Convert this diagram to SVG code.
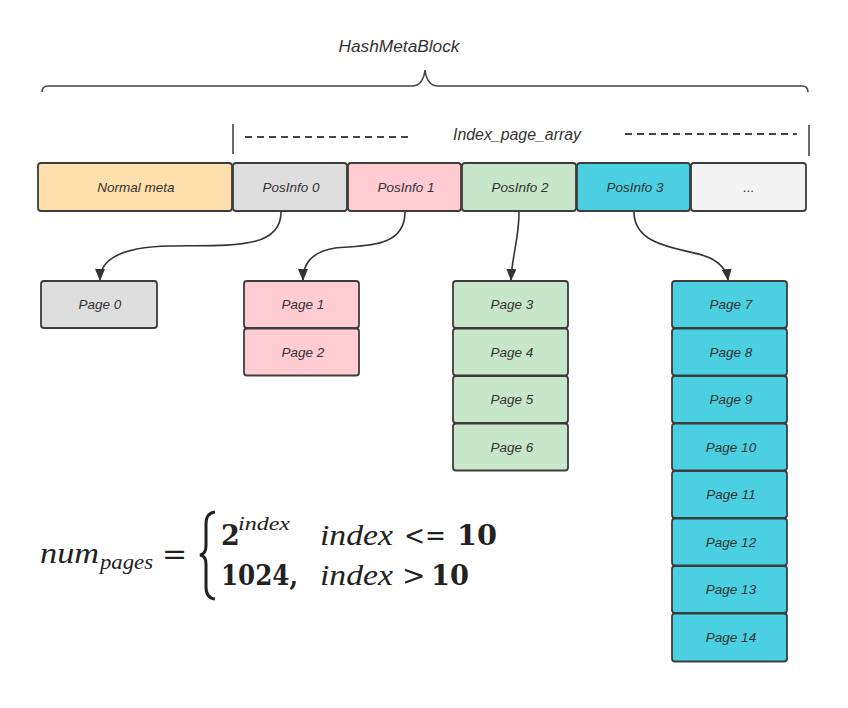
<svg xmlns="http://www.w3.org/2000/svg" width="848" height="708" viewBox="0 0 848 708">
<style>
.box{stroke:#3c3c3c;stroke-width:1.8;}
.lbl{font-family:"Liberation Sans",Arial,sans-serif;font-style:italic;font-size:13.5px;fill:#333;text-anchor:middle;dominant-baseline:central;}
.cap{font-family:"Liberation Sans",Arial,sans-serif;font-style:italic;font-size:16px;fill:#333;text-anchor:middle;}
.conn{fill:none;stroke:#333;stroke-width:1.6;}
.line{fill:none;stroke:#444;stroke-width:1.6;}
.dash{fill:none;stroke:#444;stroke-width:1.8;stroke-dasharray:7 5;}
.m{font-family:"DejaVu Serif","Liberation Serif",serif;fill:#222;}
.mi{font-family:"Liberation Serif",serif;font-style:italic;fill:#222;}
.mb{font-family:"DejaVu Serif","Liberation Serif",serif;font-weight:bold;fill:#222;}
.gray{fill:#dedede}.pink{fill:#ffccd3}.green{fill:#c8e6c9}.cyan{fill:#4bd0e1}.peach{fill:#ffdfac}.light{fill:#f3f3f3}
</style>
<defs>
<marker id="arr" viewBox="0 0 12 10" refX="11" refY="5" markerWidth="12" markerHeight="10" markerUnits="userSpaceOnUse" orient="auto">
<path d="M0,0 L12,5 L0,10 z" fill="#333"/>
</marker>
</defs>

<g id="header">
<text class="cap" x="399" y="52" textLength="121" lengthAdjust="spacingAndGlyphs">HashMetaBlock</text>
<path class="line" d="M42,92 Q42,86 48,86 L412,86 Q423,86 425,70 Q427,86 438,86 L802,86 Q808,86 808,92"/>
<line class="line" x1="233" y1="124" x2="233" y2="154"/>
<line class="line" x1="809" y1="125" x2="809" y2="156"/>
<line class="dash" x1="245" y1="137" x2="410" y2="137"/>
<line class="dash" x1="625" y1="134" x2="797" y2="134"/>
<text class="cap" x="517" y="140" textLength="128" lengthAdjust="spacingAndGlyphs">Index_page_array</text>
</g>

<g id="normal-meta"><rect class="box peach" x="38" y="163" width="194" height="48" rx="3"/><text class="lbl" x="136" y="187">Normal meta</text></g>
<g id="posinfo0"><rect class="box gray" x="233" y="163" width="114" height="48" rx="3"/><text class="lbl" x="291" y="187">PosInfo 0</text></g>
<g id="posinfo1"><rect class="box pink" x="348" y="163" width="113" height="48" rx="3"/><text class="lbl" x="406" y="187">PosInfo 1</text></g>
<g id="posinfo2"><rect class="box green" x="462" y="163" width="114" height="48" rx="3"/><text class="lbl" x="520" y="187">PosInfo 2</text></g>
<g id="posinfo3"><rect class="box cyan" x="577" y="163" width="113" height="48" rx="3"/><text class="lbl" x="635" y="187">PosInfo 3</text></g>
<g id="ellipsis"><rect class="box light" x="691" y="163" width="115" height="48" rx="3"/><text class="lbl" x="749" y="187">...</text></g>

<g id="connectors">
<path class="conn" marker-end="url(#arr)" d="M281,212 C281,250 230,245 170,246 C115,247 100,262 100,280"/>
<path class="conn" marker-end="url(#arr)" d="M405,212 C405,250 360,245 335,248 C310,252 303,265 303,280"/>
<path class="conn" marker-end="url(#arr)" d="M519,212 C519,240 512,255 511,280"/>
<path class="conn" marker-end="url(#arr)" d="M634,212 C634,250 690,248 710,258 C722,264 727,272 728,280"/>
</g>

<g id="page0"><rect class="box gray" x="41" y="281" width="116" height="47" rx="3"/><text class="lbl" x="100" y="304.5">Page 0</text></g>
<g id="page1"><rect class="box pink" x="244" y="281" width="115" height="47" rx="3"/><text class="lbl" x="303" y="304.5">Page 1</text></g>
<g id="page2"><rect class="box pink" x="244" y="328.5" width="115" height="47" rx="3"/><text class="lbl" x="303" y="352">Page 2</text></g>
<g id="page3"><rect class="box green" x="453" y="281" width="115" height="47" rx="3"/><text class="lbl" x="512" y="304.5">Page 3</text></g>
<g id="page4"><rect class="box green" x="453" y="328.5" width="115" height="47" rx="3"/><text class="lbl" x="512" y="352">Page 4</text></g>
<g id="page5"><rect class="box green" x="453" y="376" width="115" height="47" rx="3"/><text class="lbl" x="512" y="399.5">Page 5</text></g>
<g id="page6"><rect class="box green" x="453" y="423.5" width="115" height="47" rx="3"/><text class="lbl" x="512" y="447">Page 6</text></g>
<g id="page7"><rect class="box cyan" x="672" y="281" width="115" height="47" rx="3"/><text class="lbl" x="731" y="304.5">Page 7</text></g>
<g id="page8"><rect class="box cyan" x="672" y="328.5" width="115" height="47" rx="3"/><text class="lbl" x="731" y="352">Page 8</text></g>
<g id="page9"><rect class="box cyan" x="672" y="376" width="115" height="47" rx="3"/><text class="lbl" x="731" y="399.5">Page 9</text></g>
<g id="page10"><rect class="box cyan" x="672" y="423.5" width="115" height="47" rx="3"/><text class="lbl" x="731" y="447">Page 10</text></g>
<g id="page11"><rect class="box cyan" x="672" y="471" width="115" height="47" rx="3"/><text class="lbl" x="731" y="494.5">Page 11</text></g>
<g id="page12"><rect class="box cyan" x="672" y="518.5" width="115" height="47" rx="3"/><text class="lbl" x="731" y="542">Page 12</text></g>
<g id="page13"><rect class="box cyan" x="672" y="566" width="115" height="47" rx="3"/><text class="lbl" x="731" y="589.5">Page 13</text></g>
<g id="page14"><rect class="box cyan" x="672" y="613.5" width="115" height="48" rx="3"/><text class="lbl" x="731" y="637">Page 14</text></g>

<g id="formula">
<text class="mi" x="40" y="563" font-size="30" textLength="59" lengthAdjust="spacingAndGlyphs">num</text>
<text class="mi" x="100" y="569" font-size="20" textLength="53" lengthAdjust="spacingAndGlyphs">pages</text>
<text class="m" x="162" y="564" font-size="30">=</text>
<path d="M215,512 Q206,513 206,524 L206,546 Q206,554 200,555 Q206,556 206,564 L206,587 Q206,598 215,599" fill="none" stroke="#222" stroke-width="3"/>
<text class="mb" x="221" y="545" font-size="27">2</text>
<text class="mi" x="238" y="530" font-size="18" textLength="52" lengthAdjust="spacingAndGlyphs">index</text>
<text class="mi" x="320" y="545" font-size="30" textLength="73" lengthAdjust="spacingAndGlyphs">index</text>
<text class="m" x="404" y="545" font-size="28" textLength="42" lengthAdjust="spacingAndGlyphs">&lt;=</text>
<text class="mb" x="457" y="545" font-size="27" textLength="40" lengthAdjust="spacingAndGlyphs">10</text>
<text class="mb" x="221" y="585" font-size="27" textLength="77" lengthAdjust="spacingAndGlyphs">1024,</text>
<text class="mi" x="320" y="585" font-size="30" textLength="73" lengthAdjust="spacingAndGlyphs">index</text>
<text class="m" x="402" y="585" font-size="28">&gt;</text>
<text class="mb" x="431" y="585" font-size="27" textLength="38" lengthAdjust="spacingAndGlyphs">10</text>
</g>
</svg>
